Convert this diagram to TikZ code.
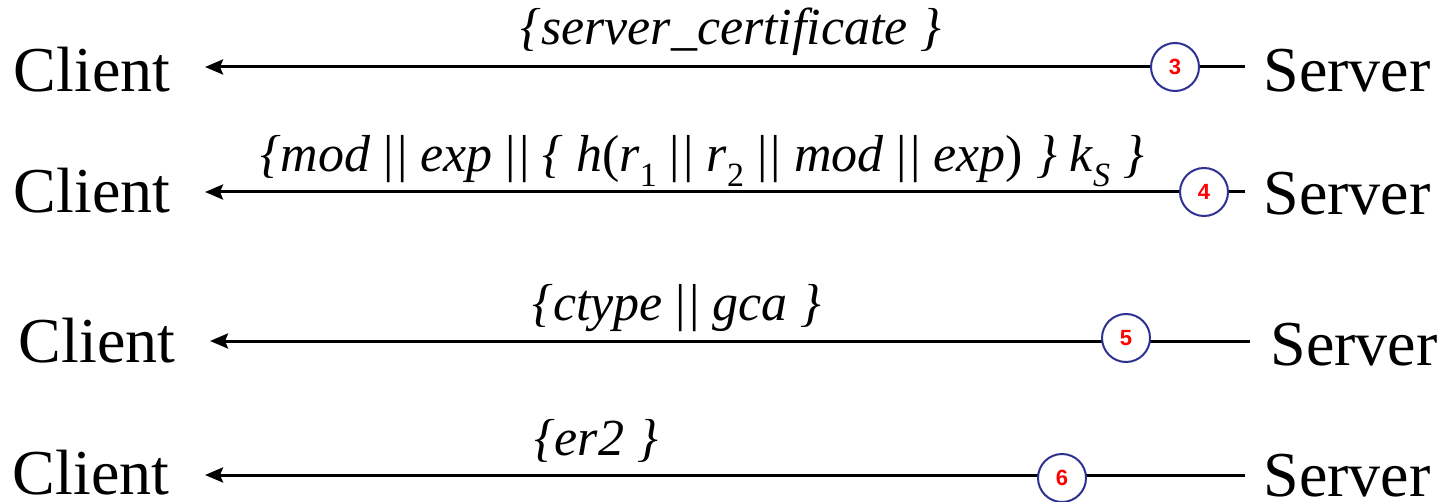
\documentclass[tikz,border=0pt]{standalone}
\usepackage{fontspec}
\setmainfont{Liberation Serif}
\newfontfamily\numfont{Liberation Sans}
\usetikzlibrary{arrows.meta}
\definecolor{circblue}{RGB}{46,49,146}
\newcommand{\dbar}{\textup{|\kern0.06em|}}
\newcommand{\lowsub}[1]{\raisebox{-0.28em}{\fontsize{34}{36}\selectfont #1}}
\tikzset{
  party/.style={font=\fontsize{64}{70}\selectfont, anchor=base, inner sep=0pt},
  msg/.style={font=\fontsize{52}{58}\selectfont\itshape, anchor=base, inner sep=0pt},
  arr/.style={line width=3pt, -{Stealth[length=18pt,width=15pt,inset=3pt]}},
  stepnum/.style={circle, draw=circblue, line width=2pt, fill=white, minimum size=48pt, inner sep=0pt,
    text=red, font=\numfont\bfseries\fontsize{22}{24}\selectfont}
}
\begin{document}
\begin{tikzpicture}[x=1pt,y=-1pt]
\useasboundingbox (0,0) rectangle (1447,502);
% row 1
\node[party] (c1) at (92,92) {Client};
\node[party] (s1) at (1347,92) {Server};
\coordinate (b1) at (1245,67);
\coordinate (e1) at (205,67);
\draw[arr] (b1) -- (e1);
\node[stepnum] (n3) at (1175,67) {3};
\node[msg] (m1) at (731,45) {\{server\_certificate \}};
% row 2
\node[party] (c2) at (92,213) {Client};
\node[party] (s2) at (1347,215) {Server};
\coordinate (b2) at (1245,192);
\coordinate (e2) at (205,192);
\draw[arr] (b2) -- (e2);
\node[stepnum] (n4) at (1204,192) {4};
\node[msg] (m2) at (702,172) {\{mod \dbar{} exp \dbar{} \{ h\textup{(}r\lowsub{\textup{1}} \dbar{} r\lowsub{\textup{2}} \dbar{} mod \dbar{} exp\textup{)} \} k\lowsub{S} \}};
% row 3
\node[party] (c3) at (97,362) {Client};
\node[party] (s3) at (1354,365) {Server};
\coordinate (b3) at (1250,341);
\coordinate (e3) at (210,341);
\draw[arr] (b3) -- (e3);
\node[stepnum] (n5) at (1126,338) {5};
\node[msg] (m3) at (677,320) {\{ctype \dbar{} gca \}};
% row 4
\node[party] (c4) at (91,494) {Client};
\node[party] (s4) at (1347,496) {Server};
\coordinate (b4) at (1245,475);
\coordinate (e4) at (205,475);
\draw[arr] (b4) -- (e4);
\node[stepnum] (n6) at (1062,478) {6};
\node[msg] (m4) at (596,455) {\{er2 \}};
\end{tikzpicture}
\end{document}
